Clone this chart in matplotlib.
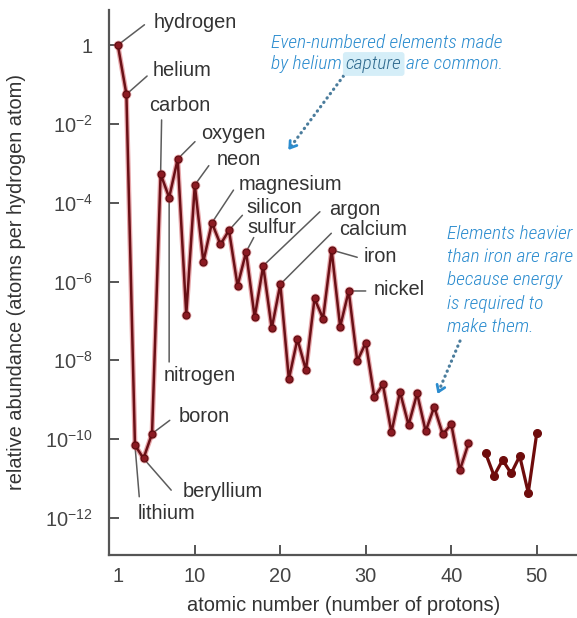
import numpy as np
import matplotlib
matplotlib.use("Agg")
import matplotlib.pyplot as plt
from matplotlib.ticker import NullLocator
from matplotlib import font_manager

plt.rcParams['font.family'] = ['Liberation Sans', 'DejaVu Sans']
plt.rcParams['mathtext.fontset'] = 'custom'
plt.rcParams['mathtext.rm'] = 'Liberation Sans'
plt.rcParams['mathtext.it'] = 'Liberation Sans:italic'
plt.rcParams['mathtext.bf'] = 'Liberation Sans:bold'

# ---- data: atomic number vs. log10 of abundance (atoms per hydrogen atom) ----
z_light = list(range(1, 43))
log_abund_light = [
    0.00, -1.25, -10.15, -10.49, -9.86, -3.27, -3.87, -2.89, -6.84, -3.55,
    -5.50, -4.51, -5.06, -4.70, -6.11, -5.25, -6.91, -5.60, -7.19, -6.07,
    -8.48, -7.46, -8.25, -6.43, -6.94, -5.20, -7.15, -6.24, -8.02, -7.55,
    -8.94, -8.61, -9.83, -8.80, -9.64, -8.84, -9.80, -9.18, -9.88, -9.62,
    -10.79, -10.11,
]
z_heavy = [44, 45, 46, 47, 48, 49, 50]
log_abund_heavy = [-10.35, -10.93, -10.53, -10.87, -10.43, -11.36, -9.84]

x_ticks = [1, 10, 20, 30, 40, 50]
x_tick_labels = ['1', '10', '20', '30', '40', '50']
y_tick_exps = [0, -2, -4, -6, -8, -10, -12]
y_tick_labels = ['1'] + [r'$10^{%d}$' % e for e in y_tick_exps[1:]]

named_elements = {
    1: 'hydrogen', 2: 'helium', 3: 'lithium', 4: 'beryllium', 5: 'boron',
    6: 'carbon', 7: 'nitrogen', 8: 'oxygen', 10: 'neon', 12: 'magnesium',
    14: 'silicon', 16: 'sulfur', 18: 'argon', 20: 'calcium', 26: 'iron',
    28: 'nickel',
}

# label placement: (text offset, leader-line end) in pixels, x right / y down
label_layout = {
    1: ((36, -22.6), (26.6, -20.3)),
    2: ((26.7, -24.3), (20.7, -18.3)),
    3: ((2.3, 68.3), (4.3, 51.7)),
    4: ((38.7, 33.4), (27.7, 31.7)),
    5: ((27, -17.3), (17.7, -13.3)),
    6: ((-11.7, -68), (1, -54)),
    7: ((-5, 178.4), (0, 164.4)),
    8: ((23, -25), (17.3, -17.3)),
    10: ((21.7, -25.7), (14, -19.3)),
    12: ((26.6, -38.4), (21.6, -32.7)),
    14: ((17.7, -22.7), (13.4, -15)),
    16: ((1.6, -24.4), (7.6, -14.4)),
    18: ((66, -56.4), (56.7, -54)),
    20: ((58.6, -55), (51, -51)),
    26: ((31.6, 6.7), (25.6, 7.3)),
    28: ((25.3, -1.7), (17, 0)),
}


def narrow_italic_font():
    """Find a condensed/narrow italic sans face among the installed fonts,
    preferring a light weight."""
    best = None
    for f in font_manager.fontManager.ttflist:
        name = f.name.lower()
        path = f.fname.lower()
        narrow = ('narrow' in name or 'condensed' in name or 'narrow' in path
                  or 'condensed' in path or f.stretch in ('condensed', 'semi-condensed'))
        italic = f.style in ('italic', 'oblique') or 'italic' in path or 'oblique' in path
        if not (narrow and italic):
            continue
        if 'bold' in path or 'black' in path or 'thin' in path:
            continue
        if 'extralight' in path or 'semi' in path:
            continue
        fam = 0 if 'liberation' in path else 1 if 'roboto' in path else 2 if 'dejavu' in path else 3
        wt = 0 if 'light' in path else 1 if 'medium' not in path else 2
        rank = (fam, wt)
        if best is None or rank < best[0]:
            best = (rank, f.fname)
    return best[1] if best else None


W, H = 577, 618
fig = plt.figure(figsize=(W / 100, H / 100), dpi=100)
ax_left, ax_top, ax_bottom = 109.3, 10.0, 555.0
ax = fig.add_axes([ax_left / W, 1 - ax_bottom / H, (W - ax_left) / W, (ax_bottom - ax_top) / H])
ax.set_yscale('log')
ax.set_xlim(0, 54.7)
ax.set_ylim(10 ** -12.94, 10 ** 0.89)

zl = np.array(z_light)
yl = 10.0 ** np.array(log_abund_light)
zh = np.array(z_heavy)
yh = 10.0 ** np.array(log_abund_heavy)

# soft red halo under the main curve, then the dark core with dots
ax.plot(zl, yl, color='#cc3f47', lw=3.6, alpha=0.45, marker='o', ms=7,
        mec='none', solid_joinstyle='round', zorder=2)
ax.plot(zl, yl, color='#6a1016', lw=1.8, marker='o', ms=5, mfc='#8c1a22',
        mec='#5a0c10', mew=0.8, solid_joinstyle='round', zorder=3)
ax.plot(zh, yh, color='#6e0c0c', lw=2.3, marker='o', ms=5.5, mfc='#6e0c0c',
        mec='#6e0c0c', solid_joinstyle='round', zorder=3)

# axes styling
for side in ('top', 'right'):
    ax.spines[side].set_visible(False)
for side in ('left', 'bottom'):
    ax.spines[side].set_color('#555555')
    ax.spines[side].set_linewidth(1.6)

ax.set_yticks([10.0 ** e for e in y_tick_exps])
ax.set_yticklabels(y_tick_labels)
ax.yaxis.set_minor_locator(NullLocator())
ax.set_xticks(x_ticks)
ax.set_xticklabels(x_tick_labels)
ax.tick_params(axis='both', direction='in', length=7, width=1.4, color='#555555',
               labelsize=14.4, labelcolor='#444444')
ax.tick_params(axis='y', pad=12)
ax.tick_params(axis='x', pad=9)
ax.xaxis.get_major_ticks()[0].tick1line.set_visible(False)

ax.set_xlabel('atomic number (number of protons)', fontsize=14.4, color='#333333')
ax.xaxis.set_label_coords(0.5, -0.075)
ax.set_ylabel('relative abundance (atoms per hydrogen atom)', fontsize=14.4, color='#333333')
ax.yaxis.set_label_coords(-0.178, 0.5)

# element names with leader lines
abund_by_z = dict(zip(z_light, log_abund_light))
for z, name in named_elements.items():
    (tx, ty), (lx, ly) = label_layout[z]
    xy = (z, 10.0 ** abund_by_z[z])
    ax.annotate('', xy=xy, xytext=(lx, -ly), textcoords='offset pixels',
                arrowprops=dict(arrowstyle='-', color='#5c5c5c', lw=1.1,
                                shrinkA=0, shrinkB=2.5), zorder=1)
    ax.annotate(name, xy=xy, xytext=(tx, -ty), textcoords='offset pixels',
                ha='left', va='center', fontsize=14.4, color='#333333', zorder=4)

# blue explanatory notes
blue = '#2b8ccf'
narrow_path = narrow_italic_font()
if narrow_path:
    note_font = dict(fontproperties=font_manager.FontProperties(fname=narrow_path, size=14.0),
                     color=blue)
else:
    note_font = dict(family='Liberation Sans', style='italic', fontsize=12.0, color=blue)


def fig_text(x, y, s, **kw):
    return fig.text(x / W, 1 - y / H, s, va='baseline', ha='left', **kw)


fig_text(270.7, 47.5, 'Even-numbered elements made', **note_font)
renderer = fig.canvas.get_renderer()
t1 = fig_text(270.7, 69.0, 'by helium', **note_font)
w1 = t1.get_window_extent(renderer).width
aa = fig_text(0, -50, 'aa', **note_font)
asp = fig_text(0, -50, 'a a', **note_font)
space_w = asp.get_window_extent(renderer).width - aa.get_window_extent(renderer).width
aa.remove()
asp.remove()
cap_font = dict(note_font, color='#2f6a8e')
t2 = fig_text(270.7 + w1 + space_w, 69.0, 'capture', **cap_font,
              bbox=dict(boxstyle='round,pad=0.15', fc='#d5eef8', ec='none'))
w2 = t2.get_window_extent(renderer).width
fig_text(270.7 + w1 + 2 * space_w + w2, 69.0, 'are common.', **note_font)

note2 = ['Elements heavier', 'than iron are rare', 'because energy',
         'is required to', 'make them.']
for i, line in enumerate(note2):
    fig_text(446.7, 238.8 + 23.3 * i, line, **note_font)


def dotted_arrow(start, end):
    s = (start[0], H - start[1])
    e = (end[0], H - end[1])
    ax.annotate('', xy=e, xycoords='figure pixels', xytext=s, textcoords='figure pixels',
                arrowprops=dict(arrowstyle='-', color='#4a7c9c', lw=2.3,
                                linestyle=(0, (0.1, 1.6)), capstyle='round',
                                shrinkA=0, shrinkB=3))
    d = np.array(s) - np.array(e)
    d = d / np.hypot(*d)
    back = (e[0] + 4 * d[0], e[1] + 4 * d[1])
    ax.annotate('', xy=e, xycoords='figure pixels', xytext=back, textcoords='figure pixels',
                arrowprops=dict(arrowstyle='->,head_length=0.45,head_width=0.3',
                                color=blue, lw=2.0, shrinkA=0, shrinkB=0))


dotted_arrow((346.7, 71.7), (288.3, 150.0))
dotted_arrow((460.0, 341.0), (437.5, 394.0))

fig.savefig('out.png', dpi=100)
